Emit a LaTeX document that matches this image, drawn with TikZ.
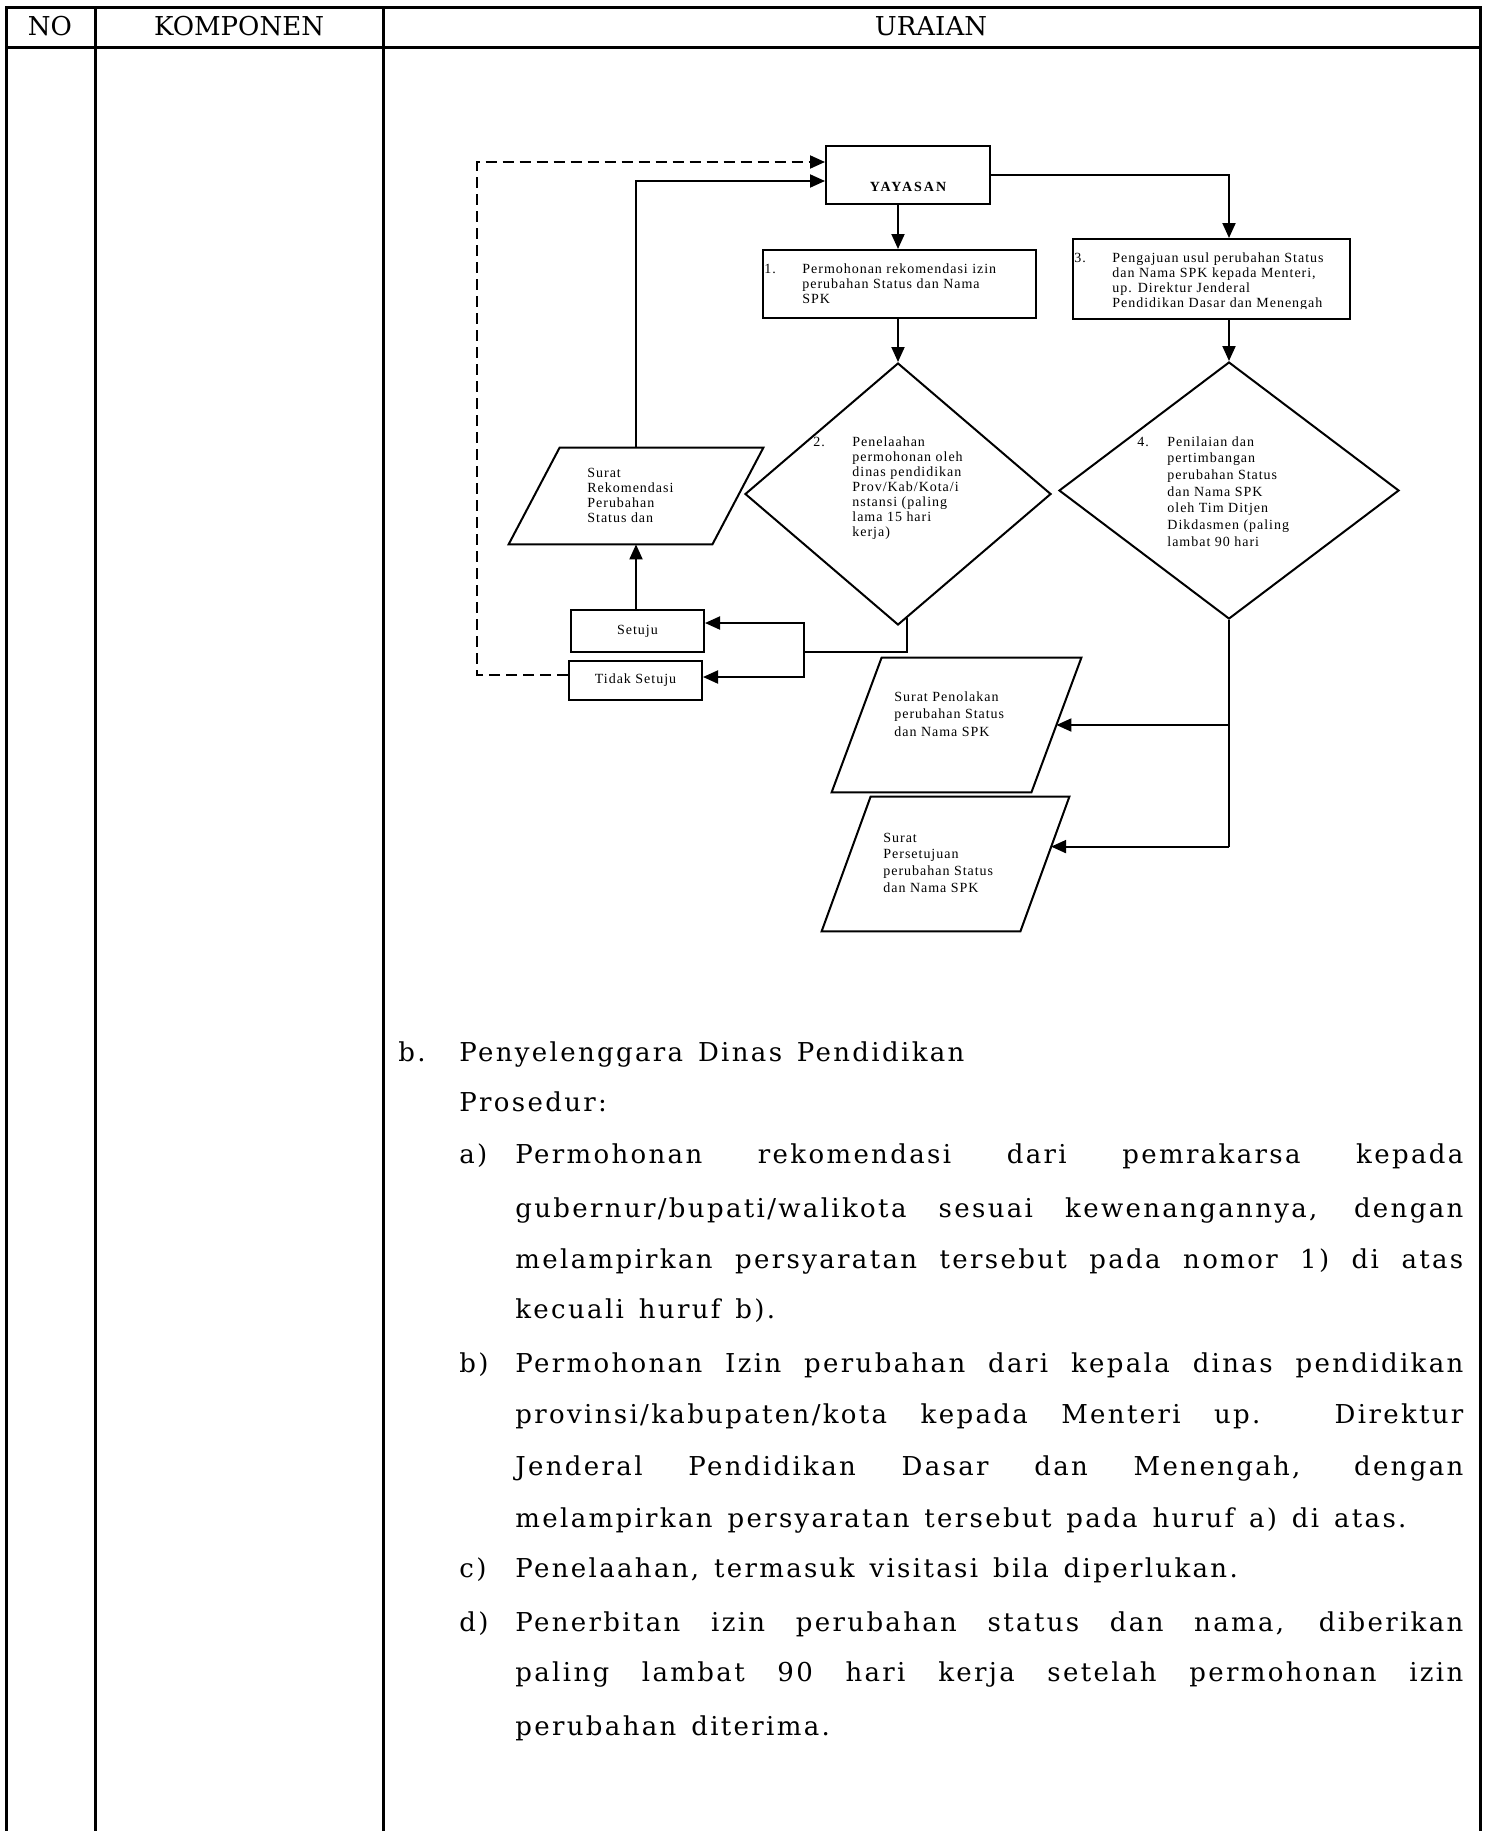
\documentclass[tikz,border=0pt]{standalone}
\usepackage{fontspec}
\setmainfont[LetterSpace=9, WordSpace=1.4]{DejaVu Serif}
\newfontfamily\hdrfont{DejaVu Serif}
\newfontfamily\flowfont[LetterSpace=7]{Liberation Serif}
\newfontfamily\yayfont[LetterSpace=14]{Liberation Serif}
\usetikzlibrary{arrows.meta,shapes.geometric,calc}
\newcommand{\mlines}[1]{\begin{tabular}[t]{@{}l@{}}#1\end{tabular}}
\newcommand{\jline}[1]{\makebox[474pt][s]{#1}}
\newcommand{\paral}[2]{\draw[conn] ($(#1.north west)+(#2,0)$) -- (#1.north east) -- ($(#1.south east)+(-#2,0)$) -- (#1.south west) -- cycle;}
\hbadness=10000
\begin{document}
\begin{tikzpicture}[x=0.5pt,y=-0.5pt,
  tbl/.style={line width=1.5pt},
  box/.style={draw, rectangle, line width=1pt, inner sep=0},
  dia/.style={draw, diamond, line width=1pt, inner sep=0},
  pbox/.style={rectangle, inner sep=0},
  arr/.style={line width=1pt, -{Triangle[length=7.5pt,width=6.5pt]}},
  conn/.style={line width=1pt, line join=miter},
  dsh/.style={line width=1.3pt, dash pattern=on 5.5pt off 3pt},
  fl/.style={font=\flowfont\fontsize{7}{7.6}\selectfont, inner sep=0, anchor=base west},
  hdr/.style={font=\hdrfont\fontsize{13}{16}\selectfont, inner sep=0, anchor=base},
  body/.style={font=\fontsize{13}{26}\selectfont, inner sep=0, anchor=base west}]
\useasboundingbox (0,0) rectangle (1489,1831);

% table
\draw[tbl] (6,7) -- (1480,7);
\draw[tbl] (6,47) -- (1480,47);
\foreach \x in {6,95,383,1480} \draw[tbl] (\x,6.25) -- (\x,1831);
\node[hdr] (hno) at (50,35) {NO};
\node[hdr] (hkomp) at (239,35) {KOMPONEN};
\node[hdr] (hur) at (931,35) {URAIAN};

% flowchart shapes
\node[box, minimum width=82pt, minimum height=29pt] (yay) at (908,175) {};
\node[inner sep=0, font=\yayfont\bfseries\fontsize{7}{8}\selectfont] (yaytxt) at (908,187) {YAYASAN};
\node[box, minimum width=136.5pt, minimum height=34pt] (s1) at (899.5,284) {};
\node[box, minimum width=138.5pt, minimum height=40pt] (s3) at (1211.5,279) {};
\node[dia, minimum width=153pt, minimum height=131pt] (d2) at (898,494) {};
\node[dia, minimum width=170pt, minimum height=128.5pt] (d4) at (1229,490.5) {};
\node[pbox, minimum width=127pt, minimum height=48pt] (rek) at (636,496) {};
\paral{rek}{51}
\node[box, minimum width=66.5pt, minimum height=21pt] (setuju) at (637.5,631) {};
\node[box, minimum width=66.5pt, minimum height=19.5pt] (tidak) at (635.5,680.5) {};
\node[pbox, minimum width=124.5pt, minimum height=67pt] (pen) at (956.5,725) {};
\paral{pen}{50}
\node[pbox, minimum width=123.5pt, minimum height=67pt] (per) at (945.5,864) {};
\paral{per}{49}

% flowchart texts
\node[fl] (t1n) at (764,273) {1.};
\node[fl] (t1) at (802,273) {\mlines{Permohonan rekomendasi izin\\perubahan Status dan Nama\\SPK}};
\begin{scope}
\clip (1073,239) rectangle (1350,308);
\node[fl] (t3n) at (1074,262) {3.};
\node[fl, font=\flowfont\fontsize{7}{7.5}\selectfont] (t3) at (1112,262) {\mlines{Pengajuan usul perubahan Status\\dan Nama SPK kepada Menteri,\\up. Direktur Jenderal\\Pendidikan Dasar dan Menengah}};
\end{scope}
\node[fl] (t2n) at (813,446) {2.};
\node[fl, font=\flowfont\fontsize{7}{7.5}\selectfont] (t2) at (852,446) {\mlines{Penelaahan\\permohonan oleh\\dinas pendidikan\\Prov/Kab/Kota/i\\nstansi (paling\\lama 15 hari\\kerja)}};
\node[fl] (t4n) at (1137,446) {4.};
\node[fl, font=\flowfont\fontsize{7}{8.35}\selectfont] (t4) at (1167,446) {\mlines{Penilaian dan\\pertimbangan\\perubahan Status\\dan Nama SPK\\oleh Tim Ditjen\\Dikdasmen (paling\\lambat 90 hari}};
\node[fl, font=\flowfont\fontsize{7}{7.65}\selectfont] (trek) at (587,477) {\mlines{Surat\\Rekomendasi\\Perubahan\\Status dan}};
\node[fl, anchor=center] (tset) at (637.5,631) {Setuju};
\node[fl, anchor=center] (ttdk) at (635.5,680) {Tidak Setuju};
\node[fl, font=\flowfont\fontsize{7}{8.75}\selectfont] (tpen) at (894,701) {\mlines{Surat Penolakan\\perubahan Status\\dan Nama SPK}};
\begin{scope}
\clip (800,790) rectangle (1100,892);
\node[fl, font=\flowfont\fontsize{7}{8.35}\selectfont] (tper) at (883,842) {\mlines{Surat\\Persetujuan\\perubahan Status\\dan Nama SPK}};
\end{scope}

% connectors
\draw[arr] (yay.south -| d2.north) -- (s1.north -| d2.north);
\draw[arr] (s1.south -| d2.north) -- (d2.north);
\draw[arr] (yay.east) -| (s3.north -| d4.north);
\draw[arr] (s3.south -| d4.north) -- (d4.north);
\coordinate (d2out) at ($(d2.south)+(9,-7.7)$);
\coordinate (j1) at (804,652);
\draw[conn] (d2out) |- (j1);
\draw[arr] (j1) |- ($(setuju.east)+(0,-8)$);
\draw[arr] (j1) |- ($(tidak.east)+(0,-3.5)$);
\draw[arr] (setuju.north -| rek.south) -- (rek.south);
\draw[arr] (rek.north) |- ($(yay.west)+(0,6)$);
\coordinate (dc) at (477,162);
\draw[dsh, arr] ($(tidak.west)+(0,-6)$) -| (dc) -- ($(yay.west)+(0,-13)$);
\coordinate (penpt) at ($(pen.east)+(-25,0)$);
\coordinate (perpt) at ($(per.north east)+(-18.3,50)$);
\coordinate (j2) at (d4.south |- perpt);
\draw[conn] (d4.south) -- (j2);
\draw[arr] (j2 |- penpt) -- (penpt);
\draw[arr] (j2) -- (perpt);

% body text
\node[body] (lb) at (398,1061) {b.};
\node[body] (lbt) at (459,1061) {Penyelenggara Dinas Pendidikan};
\node[body] (lpro) at (459,1111) {Prosedur:};
\node[body] (la) at (459,1163) {a)};
\node[body] (la1) at (515,1163) {\jline{Permohonan rekomendasi dari pemrakarsa kepada}};
\node[body] (la2) at (515,1217) {\jline{gubernur/bupati/walikota sesuai kewenangannya, dengan}};
\node[body] (la3) at (515,1268) {\jline{melampirkan persyaratan tersebut pada nomor 1) di atas}};
\node[body] (la4) at (515,1318) {kecuali huruf b).};
\node[body] (lbb) at (459,1372) {b)};
\node[body] (lb1) at (515,1372) {\jline{Permohonan Izin perubahan dari kepala dinas pendidikan}};
\node[body] (lb2) at (515,1423) {\jline{provinsi/kabupaten/kota kepada Menteri up. Direktur}};
\node[body] (lb3) at (515,1475) {\jline{Jenderal Pendidikan Dasar dan Menengah, dengan}};
\node[body] (lb4) at (515,1527) {melampirkan persyaratan tersebut pada huruf a) di atas.};
\node[body] (lc) at (459,1577) {c)};
\node[body] (lc1) at (515,1577) {Penelaahan, termasuk visitasi bila diperlukan.};
\node[body] (ld) at (459,1631) {d)};
\node[body] (ld1) at (515,1631) {\jline{Penerbitan izin perubahan status dan nama, diberikan}};
\node[body] (ld2) at (515,1681) {\jline{paling lambat 90 hari kerja setelah permohonan izin}};
\node[body] (ld3) at (515,1735) {perubahan diterima.};
\end{tikzpicture}
\end{document}
